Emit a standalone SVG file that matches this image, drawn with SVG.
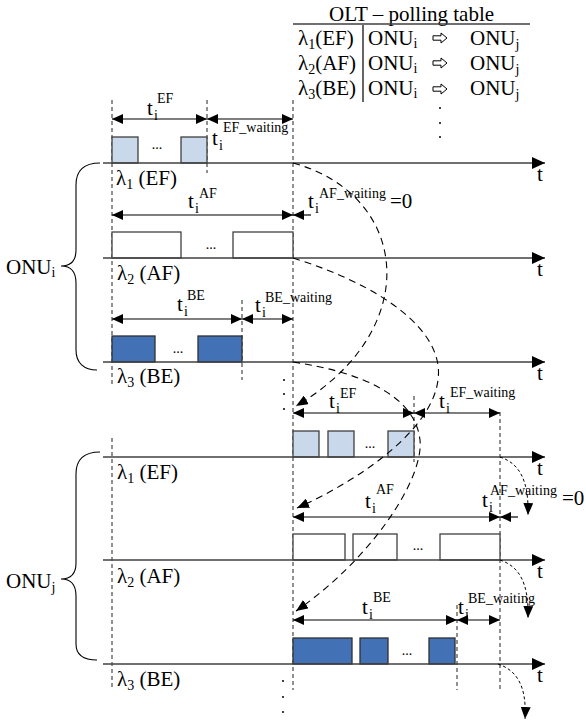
<svg xmlns="http://www.w3.org/2000/svg" width="586" height="722" viewBox="0 0 586 722">
<style>
text{font-family:"Liberation Serif","Times New Roman",serif;fill:#000}
.L{font-size:21px}
.S{font-size:14px}
.axis{stroke:#404040;stroke-width:1.5;fill:none}
.dv{stroke:#222;stroke-width:1;stroke-dasharray:4,3;fill:none}
.ar{stroke:#000;stroke-width:1.2;fill:none}
.cv{stroke:#000;stroke-width:1.1;stroke-dasharray:7,5;fill:none}
.sc{stroke:#000;stroke-width:1;stroke-dasharray:3,2.5;fill:none}
.ef{fill:#c9d8eb;stroke:#404040;stroke-width:1.3}
.af{fill:#fff;stroke:#404040;stroke-width:1.3}
.be{fill:#4371b5;stroke:#303030;stroke-width:1.3}
.br{stroke:#000;stroke-width:1.1;fill:none}
</style>
<defs>
<marker id="ah" markerUnits="userSpaceOnUse" markerWidth="11" markerHeight="10" refX="11" refY="5" orient="auto-start-reverse"><path d="M0,0 L11,5 L0,10 Z" fill="#000"/></marker>
<marker id="ax" markerUnits="userSpaceOnUse" markerWidth="13" markerHeight="12" refX="13" refY="6" orient="auto"><path d="M0,0 L13,6 L0,12 Z" fill="#000"/></marker>
<marker id="ca" markerUnits="userSpaceOnUse" markerWidth="12" markerHeight="10" refX="12" refY="5" orient="auto"><path d="M0,0 L12,5 L0,10 Z" fill="#000"/></marker>
<path id="wa" d="M0,-2.2 L8,-2.2 L8,-5 L14,0 L8,5 L8,2.2 L0,2.2 Z" fill="#fff" stroke="#000" stroke-width="1"/>
</defs>

<g id="olt-table">
<text class="L" x="329" y="21">OLT – polling table</text>
<line x1="293" y1="24" x2="530" y2="24" stroke="#404040" stroke-width="1.5"/>
<line x1="363" y1="25" x2="363" y2="102" stroke="#000" stroke-width="1.2"/>
<text class="L" x="298" y="45">λ<tspan class="S" dy="4">1</tspan><tspan dy="-4">(EF)</tspan></text>
<text class="L" x="298" y="70">λ<tspan class="S" dy="4">2</tspan><tspan dy="-4">(AF)</tspan></text>
<text class="L" x="298" y="95">λ<tspan class="S" dy="4">3</tspan><tspan dy="-4">(BE)</tspan></text>
<text class="L" x="368" y="45">ONU<tspan class="S" dy="3">i</tspan></text>
<text class="L" x="368" y="70">ONU<tspan class="S" dy="3">i</tspan></text>
<text class="L" x="368" y="95">ONU<tspan class="S" dy="3">i</tspan></text>
<use href="#wa" x="433" y="38"/>
<use href="#wa" x="433" y="63"/>
<use href="#wa" x="433" y="89"/>
<text class="L" x="470" y="45">ONU<tspan class="S" dy="4">j</tspan></text>
<text class="L" x="470" y="70">ONU<tspan class="S" dy="4">j</tspan></text>
<text class="L" x="470" y="95">ONU<tspan class="S" dy="4">j</tspan></text>
<circle cx="440" cy="108" r="1" fill="#000"/>
<circle cx="440" cy="123" r="1" fill="#000"/>
<circle cx="440" cy="137" r="1" fill="#000"/>
</g>

<g id="onu-i">
<path class="br" d="M100,163 C84,163 76,170 76,185 L76,250 C76,261 71,266 61,266 C71,266 76,272 76,283 L76,350 C76,363 84,370 97,370"/>
<text class="L" x="6" y="274">ONU<tspan class="S" dy="3">i</tspan></text>
</g>

<g id="onu-j">
<path class="br" d="M100,452 C84,452 76,459 76,474 L76,563 C76,574 71,579 61,579 C71,579 76,585 76,596 L76,644 C76,655 84,660 97,660"/>
<text class="L" x="6" y="588">ONU<tspan class="S" dy="4">j</tspan></text>
</g>

<g id="guides">
<line class="dv" x1="112" y1="100" x2="112" y2="385"/>
<line class="dv" x1="112" y1="438" x2="112" y2="690"/>
<line class="dv" x1="207" y1="100" x2="207" y2="173"/>
<line class="dv" x1="293" y1="100" x2="293" y2="690"/>
<line class="dv" x1="242" y1="300" x2="242" y2="380"/>
<line class="dv" x1="414" y1="396" x2="414" y2="462"/>
<line class="dv" x1="500" y1="412" x2="500" y2="690"/>
<line class="dv" x1="457" y1="605" x2="457" y2="690"/>
<circle cx="284" cy="380" r="1" fill="#000"/>
<circle cx="284" cy="394" r="1" fill="#000"/>
<circle cx="284" cy="409" r="1" fill="#000"/>
<circle cx="283" cy="681" r="1" fill="#000"/>
<circle cx="283" cy="697" r="1" fill="#000"/>
<circle cx="283" cy="712" r="1" fill="#000"/>
</g>

<g id="onu-i-ef">
<rect class="ef" x="112" y="137" width="26" height="26"/>
<rect class="ef" x="181" y="137" width="26" height="26"/>
<text class="S" x="157" y="149" text-anchor="middle">...</text>
<line class="axis" x1="103" y1="163" x2="545" y2="163" marker-end="url(#ax)"/>
<text class="L" x="537" y="181">t</text>
<text class="L" x="116" y="185">λ<tspan class="S" dy="4">1</tspan><tspan dy="-4"> (EF)</tspan></text>
<line class="ar" x1="112" y1="119" x2="207" y2="119" marker-start="url(#ah)" marker-end="url(#ah)"/>
<line class="ar" x1="207" y1="119" x2="293" y2="119" marker-start="url(#ah)" marker-end="url(#ah)"/>
<text class="L" x="147" y="115">t</text><text class="S" x="154" y="120">i</text><text class="S" x="157" y="103">EF</text>
<text class="L" x="212" y="145">t</text><text class="S" x="219" y="150">i</text><text class="S" x="223" y="132">EF_waiting</text>
</g>

<g id="onu-i-af">
<rect class="af" x="112" y="232" width="69" height="26"/>
<rect class="af" x="233" y="232" width="60" height="26"/>
<text class="S" x="211" y="249" text-anchor="middle">...</text>
<line class="axis" x1="103" y1="258" x2="545" y2="258" marker-end="url(#ax)"/>
<text class="L" x="537" y="276">t</text>
<text class="L" x="117" y="280">λ<tspan class="S" dy="4">2</tspan><tspan dy="-4"> (AF)</tspan></text>
<line class="ar" x1="112" y1="215" x2="293" y2="215" marker-start="url(#ah)" marker-end="url(#ah)"/>
<line class="ar" x1="311" y1="215" x2="293" y2="215" marker-end="url(#ah)"/>
<text class="L" x="188" y="208">t</text><text class="S" x="195" y="213">i</text><text class="S" x="199" y="198">AF</text>
<text class="L" x="308" y="208">t</text><text class="S" x="315" y="213">i</text><text class="S" x="319" y="198">AF_waiting</text>
<text class="L" x="390" y="208">=0</text>
</g>

<g id="onu-i-be">
<rect class="be" x="112" y="336" width="43" height="26"/>
<rect class="be" x="198" y="336" width="44" height="26"/>
<text class="S" x="178" y="353" text-anchor="middle">...</text>
<line class="axis" x1="103" y1="362" x2="545" y2="362" marker-end="url(#ax)"/>
<text class="L" x="537" y="380">t</text>
<text class="L" x="117" y="383">λ<tspan class="S" dy="4">3</tspan><tspan dy="-4"> (BE)</tspan></text>
<line class="ar" x1="112" y1="319" x2="242" y2="319" marker-start="url(#ah)" marker-end="url(#ah)"/>
<line class="ar" x1="242" y1="319" x2="293" y2="319" marker-start="url(#ah)" marker-end="url(#ah)"/>
<text class="L" x="177" y="311">t</text><text class="S" x="184" y="316">i</text><text class="S" x="187" y="300">BE</text>
<text class="L" x="255" y="312">t</text><text class="S" x="262" y="317">i</text><text class="S" x="265" y="302">BE_waiting</text>
</g>

<g id="onu-j-ef">
<rect class="ef" x="293" y="431" width="26" height="26"/>
<rect class="ef" x="328" y="431" width="26" height="26"/>
<rect class="ef" x="388" y="431" width="26" height="26"/>
<text class="S" x="370" y="448" text-anchor="middle">...</text>
<line class="axis" x1="103" y1="457" x2="545" y2="457" marker-end="url(#ax)"/>
<text class="L" x="537" y="475">t</text>
<text class="L" x="117" y="479">λ<tspan class="S" dy="4">1</tspan><tspan dy="-4"> (EF)</tspan></text>
<line class="ar" x1="293" y1="413" x2="414" y2="413" marker-start="url(#ah)" marker-end="url(#ah)"/>
<line class="ar" x1="414" y1="413" x2="500" y2="413" marker-start="url(#ah)" marker-end="url(#ah)"/>
<text class="L" x="329" y="408">t</text><text class="S" x="336" y="413">i</text><text class="S" x="340" y="398">EF</text>
<text class="L" x="439" y="408">t</text><text class="S" x="446" y="413">i</text><text class="S" x="450" y="397">EF_waiting</text>
</g>

<g id="onu-j-af">
<rect class="af" x="293" y="534" width="52" height="26"/>
<rect class="af" x="353" y="534" width="44" height="26"/>
<rect class="af" x="440" y="534" width="60" height="26"/>
<text class="S" x="418" y="550" text-anchor="middle">...</text>
<line class="axis" x1="103" y1="560" x2="545" y2="560" marker-end="url(#ax)"/>
<text class="L" x="537" y="578">t</text>
<text class="L" x="117" y="583">λ<tspan class="S" dy="4">2</tspan><tspan dy="-4"> (AF)</tspan></text>
<line class="ar" x1="293" y1="517" x2="500" y2="517" marker-start="url(#ah)" marker-end="url(#ah)"/>
<line class="ar" x1="518" y1="517" x2="500" y2="517" marker-end="url(#ah)"/>
<text class="L" x="365" y="508">t</text><text class="S" x="372" y="513">i</text><text class="S" x="376" y="494">AF</text>
<text class="L" x="482" y="507">t</text><text class="S" x="489" y="512">i</text><text class="S" x="490" y="495">AF_waiting</text>
<text class="L" x="562" y="505">=0</text>
</g>

<g id="onu-j-be">
<rect class="be" x="293" y="638" width="59" height="26"/>
<rect class="be" x="360" y="638" width="28" height="26"/>
<rect class="be" x="429" y="638" width="26" height="26"/>
<text class="S" x="407" y="655" text-anchor="middle">...</text>
<line class="axis" x1="103" y1="664" x2="545" y2="664" marker-end="url(#ax)"/>
<text class="L" x="537" y="682">t</text>
<text class="L" x="117" y="686">λ<tspan class="S" dy="4">3</tspan><tspan dy="-4"> (BE)</tspan></text>
<line class="ar" x1="293" y1="620" x2="457" y2="620" marker-start="url(#ah)" marker-end="url(#ah)"/>
<line class="ar" x1="457" y1="620" x2="500" y2="620" marker-start="url(#ah)" marker-end="url(#ah)"/>
<text class="L" x="362" y="614">t</text><text class="S" x="369" y="619">i</text><text class="S" x="373" y="602">BE</text>
<text class="L" x="458" y="614">t</text><text class="S" x="465" y="619">i</text><text class="S" x="468" y="603">BE_waiting</text>
</g>

<g id="connectors">
<path class="cv" d="M293,163 C410,195 425,330 296,406" marker-end="url(#ca)"/>
<path class="cv" d="M293,258 C380,285 445,330 438,380 C432,430 360,480 297,508" marker-end="url(#ca)"/>
<path class="cv" d="M293,362 C360,372 415,395 420,440 C424,480 370,560 296,611" marker-end="url(#ca)"/>
<path class="sc" d="M500,457 C518,463 529,478 528,515" marker-end="url(#ca)"/>
<path class="sc" d="M500,560 C518,566 529,581 528,618" marker-end="url(#ca)"/>
<path class="sc" d="M498,664 C516,670 527,685 525,719" marker-end="url(#ca)"/>
</g>
</svg>
